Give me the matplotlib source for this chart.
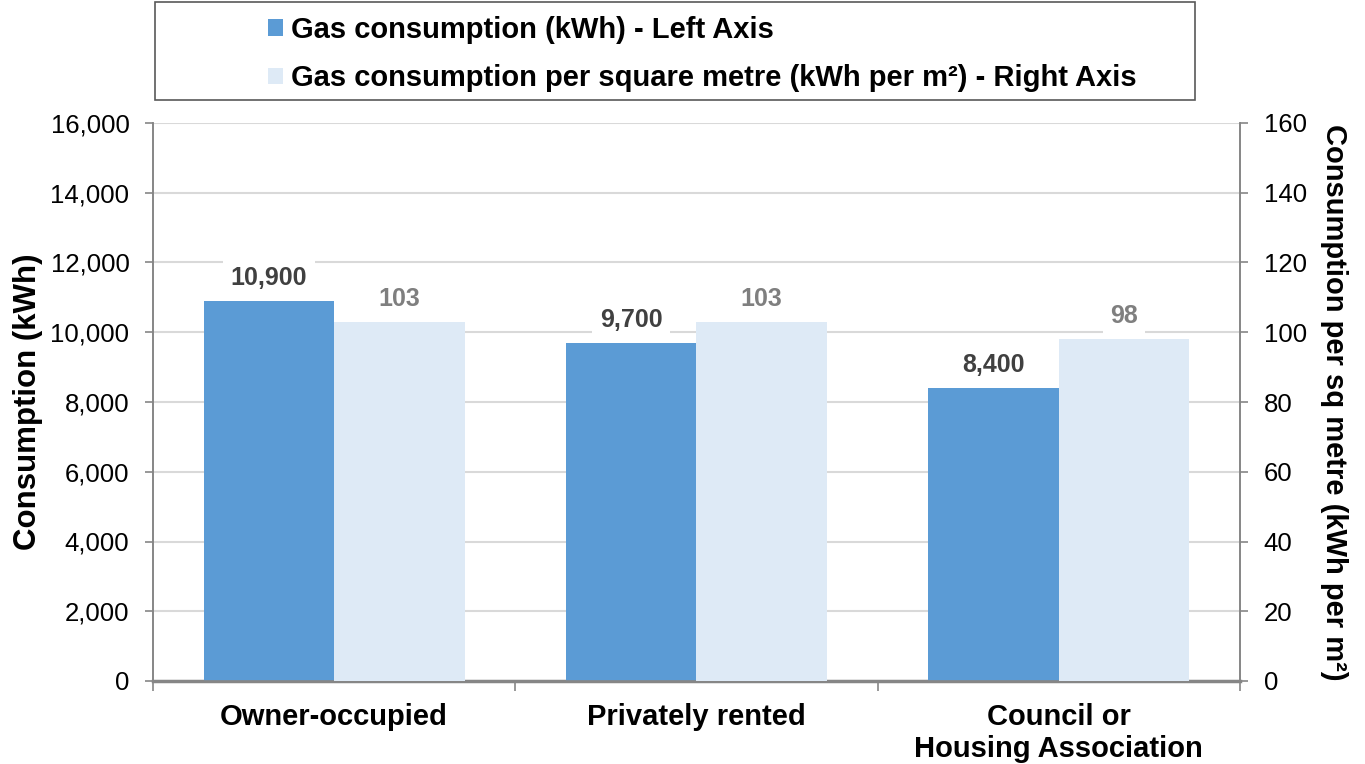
import numpy as np
import matplotlib.pyplot as plt
from matplotlib.patches import Rectangle
from matplotlib.ticker import FuncFormatter

plt.rcParams['font.family'] = ['Liberation Sans', 'DejaVu Sans']

categories = ["Owner-occupied", "Privately rented", "Council or\nHousing Association"]
gas_kwh = [10900, 9700, 8400]
gas_per_m2 = [103, 103, 98]
left_ticks = [0, 2000, 4000, 6000, 8000, 10000, 12000, 14000, 16000]
right_ticks = [0, 20, 40, 60, 80, 100, 120, 140, 160]

dark = '#5B9BD5'
light = '#DEEAF6'
axcol = '#868686'

fig = plt.figure(figsize=(13.65, 7.64), dpi=100)
ax = fig.add_axes([153/1365, 1 - 681/764, (1240-153)/1365, (681-123)/764])
ax2 = ax.twinx()

x = np.arange(len(categories))
w = 0.36
b1 = ax.bar(x - w/2, gas_kwh, w, color=dark, zorder=3, label='Gas consumption (kWh) - Left Axis')
b2 = ax2.bar(x + w/2, gas_per_m2, w, color=light, zorder=3,
             label='Gas consumption per square metre (kWh per m²) - Right Axis')

ax.set_xlim(-0.5, 2.5)
ax.set_ylim(0, 16000)
ax2.set_ylim(0, 160)
ax.set_yticks(left_ticks)
ax2.set_yticks(right_ticks)
ax.yaxis.set_major_formatter(FuncFormatter(lambda v, p: f"{int(v):,}"))
ax.grid(axis='y', color='#D9D9D9', lw=1.5, zorder=0)
ax.set_axisbelow(True)

# category ticks sit at the group boundaries
ax.set_xticks([-0.5, 0.5, 1.5, 2.5])
ax.set_xticklabels([])
ax.set_xticks(x, minor=True)
ax.set_xticklabels(categories, minor=True, fontsize=21, fontweight='bold', linespacing=1.15)
ax.tick_params(axis='x', which='minor', length=0, pad=16)
ax.tick_params(axis='x', which='major', length=7, color=axcol, width=1.2)

ax.tick_params(axis='y', labelsize=18.5, length=6, color=axcol, width=1.2, pad=11)
ax2.tick_params(axis='y', labelsize=18.5, length=6, color=axcol, width=1.2, pad=11)

for a in (ax, ax2):
    a.spines['top'].set_visible(False)
    for s in ('left', 'right', 'bottom'):
        a.spines[s].set_color(axcol)
        a.spines[s].set_linewidth(1.2)
ax.spines['bottom'].set_linewidth(2.5)

ax.set_ylabel('Consumption (kWh)', fontsize=22.5, fontweight='bold', labelpad=5)
ax2.set_ylabel('Consumption per sq metre (kWh per m²)', fontsize=21, fontweight='bold',
               rotation=270, labelpad=30)

for rect, v in zip(b1, gas_kwh):
    ax.annotate(f"{v:,}", (rect.get_x() + rect.get_width()/2, v), xytext=(0, 8),
                textcoords='offset points', ha='center', va='bottom', fontsize=18,
                fontweight='bold', color='#404040', zorder=5,
                bbox=dict(boxstyle='square,pad=0.3', fc='white', ec='none'))
for rect, v in zip(b2, gas_per_m2):
    ax2.annotate(f"{v}", (rect.get_x() + rect.get_width()/2, v), xytext=(0, 8),
                 textcoords='offset points', ha='center', va='bottom', fontsize=18,
                 fontweight='bold', color='#7F7F7F', zorder=5,
                 bbox=dict(boxstyle='square,pad=0.3', fc='white', ec='none'))

# legend box drawn separately, entries placed inside it
fig.patches.append(Rectangle((155/1365, 1 - 100/764), (1195-155)/1365, 98/764,
                             transform=fig.transFigure, fill=False,
                             ec='#595959', lw=1.2))
h = [b1, b2]
leg = fig.legend(h, [b.get_label() for b in h], loc='center left',
                 bbox_to_anchor=(268/1365, 1 - 54/764), frameon=False,
                 prop={'size': 21, 'weight': 'bold'}, handlelength=0.5, handleheight=0.5,
                 handletextpad=0.3, borderpad=0, labelspacing=0.7, borderaxespad=0)

fig.savefig('out.png', dpi=100)
